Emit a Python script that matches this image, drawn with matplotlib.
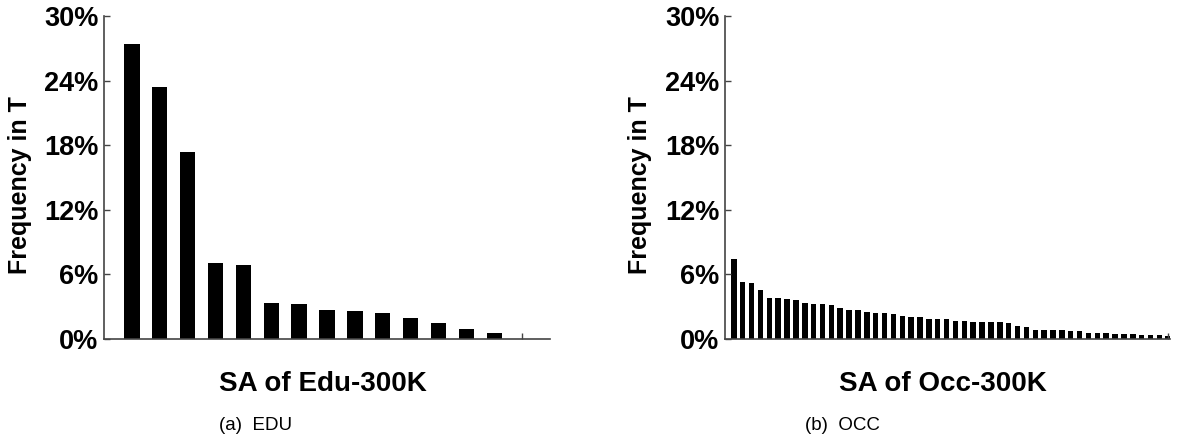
import numpy as np
from matplotlib import pyplot as plt

# SA frequency data (percent)
edu_freq = [27.4, 23.4, 17.4, 7.1, 6.85, 3.37, 3.28, 2.72, 2.63, 2.44,
            1.98, 1.46, 0.9, 0.53]
occ_freq = [7.47, 5.3, 5.2, 4.56, 3.83, 3.83, 3.73, 3.64, 3.31, 3.21,
            3.21, 3.12, 2.85, 2.66, 2.66, 2.48, 2.39, 2.39, 2.30, 2.11,
            2.02, 2.02, 1.84, 1.84, 1.83, 1.69, 1.69, 1.6, 1.6, 1.6,
            1.59, 1.5, 1.23, 1.14, 0.86, 0.86, 0.86, 0.86, 0.7, 0.7,
            0.58, 0.58, 0.58, 0.49, 0.49, 0.49, 0.4, 0.4, 0.33, 0.3]
yticks = [0, 6, 12, 18, 24, 30]
ytick_labels = ['0%', '6%', '12%', '18%', '24%', '30%']
xlabels = ['SA of Edu-300K', 'SA of Occ-300K']
captions = ['(a)  EDU', '(b)  OCC']

plt.rcParams['font.family'] = ['Liberation Sans', 'DejaVu Sans']

W, H = 1182, 443
fig = plt.figure(figsize=(W/100, H/100), dpi=100)

def px_axes(x0, x1, y0, y1):
    return fig.add_axes([x0/W, 1 - y1/H, (x1-x0)/W, (y1-y0)/H])

ax1 = px_axes(104, 550, 16, 339)
ax2 = px_axes(725, 1170, 16, 339)

def style(ax, data, width, xmax, xtick, xlab, lab_x):
    pos = np.arange(1, len(data) + 1)
    ax.bar(pos, data, width=width, color='black')
    ax.set_xlim(0, xmax)
    ax.set_ylim(0, 30)
    ax.set_yticks(yticks)
    ax.set_yticklabels(ytick_labels, fontsize=19.5, fontweight='bold')
    ax.set_xticks([xtick])
    ax.set_xticklabels([''])
    ax.tick_params(direction='in', length=4, width=1, color='#444444', pad=4)
    for s in ['top', 'right']:
        ax.spines[s].set_visible(False)
    for s in ['left', 'bottom']:
        ax.spines[s].set_color('#444444')
        ax.spines[s].set_linewidth(1.2)
    ax.set_ylabel('Frequency in T', fontsize=18, fontweight='bold')
    ax.yaxis.set_label_coords(lab_x, 0.477)
    ax.set_xlabel(xlab, fontsize=20, fontweight='bold')
    ax.xaxis.set_label_coords(0.49, -0.1)

style(ax1, edu_freq, 0.55, 16, 15, xlabels[0], -0.161)
style(ax2, occ_freq, 0.62, 50.2, 50, xlabels[1], -0.164)

fig.text(256/W, 1 - 425/H, captions[0], fontsize=13.5, ha='center', va='center')
fig.text(842/W, 1 - 425/H, captions[1], fontsize=13.5, ha='center', va='center')

fig.savefig('out.png', dpi=100)
